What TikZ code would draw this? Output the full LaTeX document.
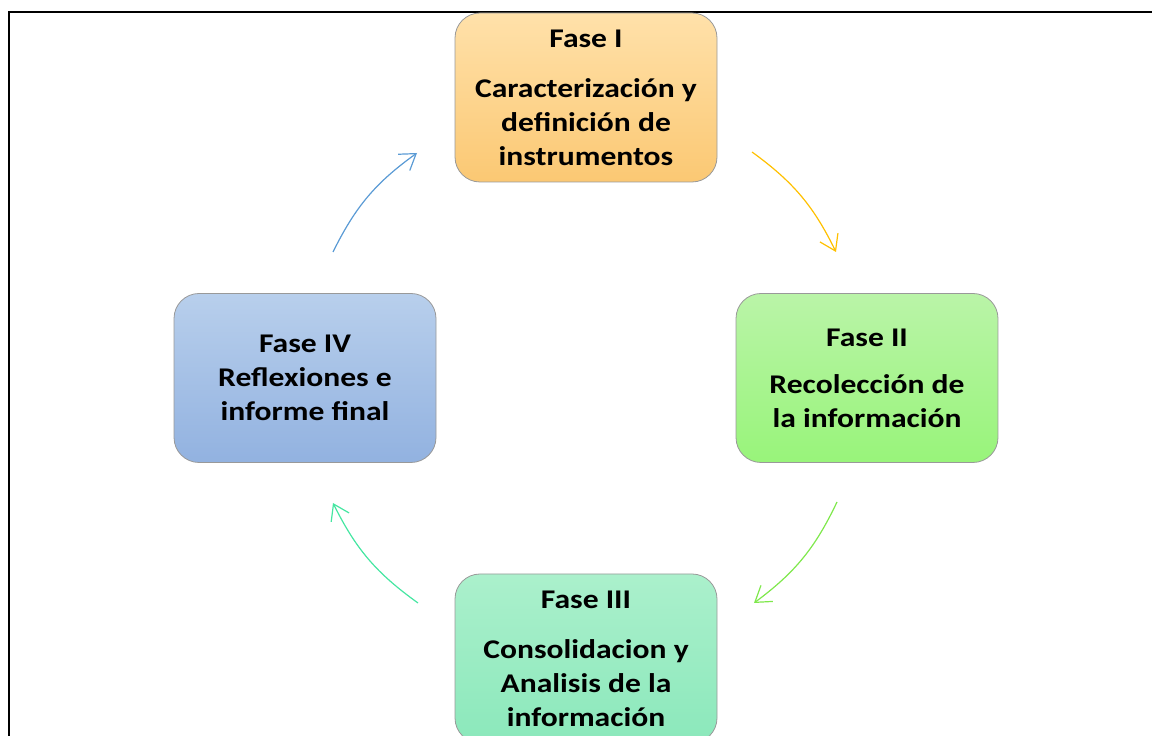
\documentclass[tikz,border=0pt]{standalone}
\usepackage{fontspec}
\newfontfamily\fasefont{Carlito}[FakeStretch=1.17]
\usetikzlibrary{arrows.meta}

\definecolor{naranjaA}{HTML}{FFE1AA}
\definecolor{naranjaB}{HTML}{FBC873}
\definecolor{verdeA}{HTML}{BAF4A8}
\definecolor{verdeB}{HTML}{98F47A}
\definecolor{turqA}{HTML}{ABF0CC}
\definecolor{turqB}{HTML}{8BE8BB}
\definecolor{azulA}{HTML}{B8CFEC}
\definecolor{azulB}{HTML}{92B2E0}
\definecolor{flechaI}{HTML}{FFC000}
\definecolor{flechaII}{HTML}{7FE84C}
\definecolor{flechaIII}{HTML}{46E6A2}
\definecolor{flechaIV}{HTML}{5B9BD5}

\begin{document}
\begin{tikzpicture}[x=1pt,y=1pt,
    fase/.style={rounded corners=25pt, draw=black!40, line width=0.8pt,
        minimum width=262pt, minimum height=169pt, inner sep=0pt,
        align=center, font=\fasefont\bfseries\fontsize{27}{34}\selectfont},
    ciclo/.style={line width=1.2pt, -{Straight Barb[length=15pt,width=20pt]}}]

    \useasboundingbox (0,0) rectangle (1152,736);

    % marco
    \draw[line width=2pt] (9,0) -- (9,724) -- (1152,724);

    \node[fase, top color=naranjaA, bottom color=naranjaB] (f1) at (586,638.5)
        {Fase I\\[16pt]Caracterización y\\definición de\\instrumentos};
    \node[fase, top color=verdeA, bottom color=verdeB] (f2) at (867,358)
        {Fase II\\[13pt]Recolección de\\la información};
    \node[fase, top color=turqA, bottom color=turqB] (f3) at (586,77.5)
        {Fase III\\[16pt]Consolidacion y\\Analisis de la\\información};
    \node[fase, top color=azulA, bottom color=azulB] (f4) at (305,358)
        {Fase IV\\Reflexiones e\\informe final};

    \coordinate (1) at (752,584);
    \coordinate (2) at (836,484);
    \coordinate (3) at (837,234);
    \coordinate (4) at (754,133);
    \coordinate (5) at (418,133);
    \coordinate (6) at (333,233);
    \coordinate (7) at (333,484);
    \coordinate (8) at (417,583);

    \draw[ciclo, flechaI] (1) to[bend left=14] (2);
    \draw[ciclo, flechaII] (3) to[bend left=14] (4);
    \draw[ciclo, flechaIII] (5) to[bend left=14] (6);
    \draw[ciclo, flechaIV] (7) to[bend left=14] (8);

\end{tikzpicture}
\end{document}
